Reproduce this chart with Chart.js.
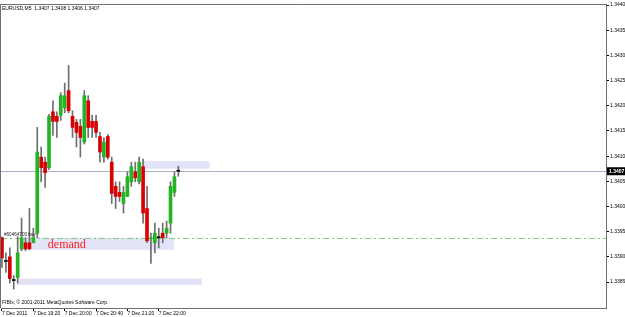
<!DOCTYPE html>
<html>
<head>
<meta charset="utf-8">
<script src="https://cdn.jsdelivr.net/npm/chart.js@4/dist/chart.umd.min.js"></script>
<style>
html,body{margin:0;padding:0;background:#fff;}
canvas{display:block;}
</style>
</head>
<body>
<canvas id="c" width="625" height="317"></canvas>
<script>
// ---- data (EURUSD M5, 7 Dec 2011) ----
const times = ['18:40','18:45','18:50','18:55','19:00','19:05','19:10','19:15','19:20','19:25',
  '19:30','19:35','19:40','19:45','19:50','19:55','20:00','20:05','20:10','20:15',
  '20:20','20:25','20:30','20:35','20:40','20:45','20:50','20:55','21:00','21:05',
  '21:10','21:15','21:20','21:25','21:30','21:35','21:40','21:45','21:50','21:55',
  '22:00','22:05','22:10','22:15','22:20','22:25'];
const open  = [1.33938,1.33891,1.33900,1.33853,1.33859,1.33916,1.33928,1.33928,1.33928,1.33947,
  1.34098,1.34088,1.34077,1.34188,1.34179,1.34181,1.34196,1.34230,1.34179,1.34167,
  1.34159,1.34128,1.34210,1.34169,1.34169,1.34139,1.34098,1.34139,1.34088,1.34040,
  1.34028,1.34006,1.34020,1.34049,1.34069,1.34049,1.34079,1.33996,1.33936,1.33928,
  1.33938,1.33947,1.33947,1.33967,1.34028,1.3407];
const high  = [1.33940,1.33908,1.33918,1.33863,1.33940,1.33977,1.33938,1.33996,1.33957,1.34157,
  1.34118,1.34098,1.34183,1.34210,1.34188,1.34226,1.34245,1.34280,1.34190,1.34173,
  1.34173,1.34230,1.34220,1.34181,1.34181,1.34147,1.34137,1.34143,1.34098,1.34049,
  1.34049,1.34040,1.34069,1.34088,1.34088,1.34098,1.34094,1.34040,1.33947,1.33967,
  1.33957,1.33967,1.33971,1.34049,1.34069,1.3408];
const low   = [1.33879,1.33869,1.33848,1.33836,1.33848,1.33912,1.33912,1.33914,1.33928,1.33938,
  1.34049,1.34038,1.34073,1.34141,1.34137,1.34171,1.34186,1.34186,1.34137,1.34118,
  1.34098,1.34124,1.34137,1.34137,1.34137,1.34088,1.34088,1.34094,1.34006,1.33996,
  1.34010,1.33987,1.34020,1.34040,1.34049,1.34045,1.33967,1.33928,1.33887,1.33908,
  1.33918,1.33928,1.33938,1.33947,1.34020,1.3406];
const close = [1.33898,1.33891,1.33857,1.33853,1.33908,1.33938,1.33916,1.33916,1.33938,1.34108,
  1.34077,1.34067,1.34179,1.34169,1.34169,1.34220,1.34220,1.34190,1.34157,1.34147,
  1.34137,1.34220,1.34157,1.34157,1.34147,1.34108,1.34128,1.34098,1.34026,1.34020,
  1.34020,1.34028,1.34059,1.34079,1.34057,1.34088,1.33987,1.33932,1.33938,1.33947,
  1.33938,1.33938,1.33957,1.34040,1.34059,1.3407];

// axis ticks
const priceTicks = [1.3385,1.3390,1.3395,1.3400,1.3405,1.3410,1.3415,1.3420,1.3425,1.3430,1.3435,1.3440];
const timeTickBars = [0,8,16,24,32,40];
const timeTickLabels = ['7 Dec 2011','7 Dec 19:20','7 Dec 20:00','7 Dec 20:40','7 Dec 21:20','7 Dec 22:00'];

// drawn objects (bar index / price)
const zoneStart = [36, 4.6, 3.8];
const zoneEnd   = [53, 43.9, 51];
const zoneHigh  = [1.34090, 1.33938, 1.33857];
const zoneLow   = [1.34075, 1.33914, 1.33844];
const currentPrice = 1.3407;
const orderPrice = 1.33938;

const titleText = 'EURUSD,M5  1.3407 1.3408 1.3406 1.3407';
const copyText = 'FIBfx, \u00a9 2001-2011 MetaQuotes Software Corp.';
const orderText = '#60464700 buy';
const zoneText = 'demand';

const GREEN = '#22b422', RED = '#d80000', WICK = '#6e6e6e';
const idx = open.map((_, i) => i);

const annot = {
  id: 'annot',
  beforeDatasetsDraw(chart) {
    const c = chart.ctx, xs = chart.scales.x, ys = chart.scales.y, a = chart.chartArea;
    c.save();
    c.beginPath(); c.rect(a.left, a.top, a.right - a.left, a.bottom - a.top); c.clip();
    c.fillStyle = '#e3e3f7';
    for (let k = 0; k < zoneStart.length; k++) {
      const x0 = xs.getPixelForValue(zoneStart[k]), x1 = xs.getPixelForValue(zoneEnd[k]);
      const y0 = ys.getPixelForValue(zoneHigh[k]), y1 = ys.getPixelForValue(zoneLow[k]);
      c.fillRect(x0, y0, x1 - x0, y1 - y0);
    }
    // bid line
    let y = Math.round(ys.getPixelForValue(currentPrice)) + 0.5;
    c.strokeStyle = '#a9b1c4'; c.lineWidth = 1;
    c.beginPath(); c.moveTo(a.left, y); c.lineTo(a.right, y); c.stroke();
    // order line
    y = Math.round(ys.getPixelForValue(orderPrice)) + 0.5;
    c.strokeStyle = '#7fd07f'; c.setLineDash([6, 3, 2, 3]);
    c.beginPath(); c.moveTo(a.left, y); c.lineTo(a.right, y); c.stroke();
    c.restore();
  },
  afterDatasetsDraw(chart) {
    const c = chart.ctx, xs = chart.scales.x, ys = chart.scales.y, a = chart.chartArea;
    c.save();
    // demand label
    c.fillStyle = '#ff2020';
    c.font = '12px "Liberation Serif"';
    c.textBaseline = 'alphabetic'; c.textAlign = 'left';
    c.fillText(zoneText, xs.getPixelForValue(11.7), ys.getPixelForValue(zoneLow[1]) - 1.5);
    // order label
    c.fillStyle = '#202020';
    c.font = '4.6px "Liberation Sans"';
    c.textBaseline = 'bottom';
    c.fillText(orderText, a.left + 3, ys.getPixelForValue(orderPrice) - 1);
    // title and copyright
    c.font = '5px "Liberation Sans"';
    c.fillStyle = '#000';
    c.textBaseline = 'middle';
    c.fillText(titleText, a.left + 1, a.top + 5);
    c.fillText(copyText, a.left + 1, a.bottom - 5);
    c.restore();
  },
  afterDraw(chart) {
    const c = chart.ctx, ys = chart.scales.y, a = chart.chartArea;
    c.save();
    c.strokeStyle = '#707070'; c.lineWidth = 1;
    c.beginPath();
    c.moveTo(a.left - 0.5, a.bottom); c.lineTo(a.left - 0.5, a.top + 0.5); c.lineTo(a.right, a.top + 0.5);
    c.stroke();
    // current price box
    const y = ys.getPixelForValue(currentPrice);
    c.fillStyle = '#000';
    c.fillRect(a.right + 1, y - 4, 18, 8);
    c.fillStyle = '#fff';
    c.font = 'bold 5px "Liberation Sans"';
    c.textBaseline = 'middle'; c.textAlign = 'left';
    c.fillText(currentPrice.toFixed(4), a.right + 3, y + 0.5);
    c.restore();
  }
};

new Chart(document.getElementById('c'), {
  type: 'bar',
  data: {
    datasets: [
      {
        label: 'body',
        data: idx.map(i => ({x: i, y: [open[i], close[i]]})),
        barThickness: 3,
        minBarLength: 1,
        grouped: false,
        order: 0,
        borderWidth: 0,
        backgroundColor: (cx) => {
          const i = cx.dataIndex;
          if (i === undefined) return GREEN;
          return close[i] > open[i] ? GREEN : (close[i] < open[i] ? RED : '#000');
        }
      },
      {
        label: 'wick',
        data: idx.map(i => ({x: i, y: [low[i], high[i]]})),
        barThickness: 1,
        grouped: false,
        order: 1,
        borderWidth: 0,
        backgroundColor: WICK
      }
    ]
  },
  options: {
    responsive: false,
    animation: false,
    devicePixelRatio: 1,
    layout: {padding: {left: 1, top: 0, right: 0, bottom: 0}},
    plugins: {legend: {display: false}, tooltip: {enabled: false}},
    scales: {
      x: {
        type: 'linear',
        offset: false,
        min: -0.25,
        max: 154.1,
        afterBuildTicks: (s) => { s.ticks = timeTickBars.map(v => ({value: v})); },
        afterFit: (s) => { s.height = 9; },
        ticks: {
          font: {size: 5, family: 'Liberation Sans'},
          color: '#000',
          align: 'start',
          padding: 0,
          maxRotation: 0,
          autoSkip: false,
          callback: (v) => timeTickLabels[timeTickBars.indexOf(v)]
        },
        grid: {drawOnChartArea: false, tickLength: 3, color: '#000', offset: false},
        border: {color: '#707070'}
      },
      y: {
        position: 'right',
        min: 1.337985,
        max: 1.34402,
        afterBuildTicks: (s) => { s.ticks = priceTicks.map(v => ({value: v})); },
        afterFit: (s) => { s.width = 19; },
        ticks: {
          font: {size: 5, family: 'Liberation Sans'},
          color: '#000',
          padding: 1,
          callback: (v) => Number(v).toFixed(4)
        },
        grid: {drawOnChartArea: false, tickLength: 3, color: '#000'},
        border: {color: '#707070'}
      }
    }
  },
  plugins: [annot]
});
</script>
</body>
</html>
